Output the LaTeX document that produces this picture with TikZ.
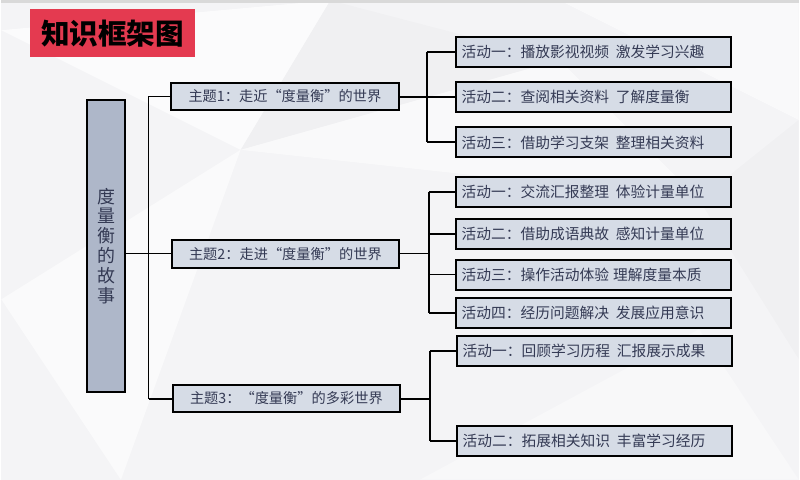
\documentclass[tikz,border=0pt]{standalone}
\usepackage{fontspec}
\usepackage{tikz}
\newfontfamily\cjk{Noto Sans CJK SC}
\definecolor{titlered}{RGB}{228,58,80}
\definecolor{storyfill}{RGB}{174,183,201}
\definecolor{boxfill}{RGB}{214,220,230}
\definecolor{inktext}{RGB}{52,58,84}
\definecolor{bgpaper}{RGB}{244,244,246}

\begin{document}
\begin{tikzpicture}[x=0.75pt,y=0.75pt,yscale=-1,xscale=1,
  every node/.style={font=\cjk},
  titlebox/.style={fill=titlered,text=black,minimum width=123.75pt,minimum height=36pt,inner sep=0pt,font=\cjk\bfseries\fontsize{21.5}{24}\selectfont},
  storybox/.style={draw,line width=1.5pt,fill=storyfill,text=inktext,minimum width=28.5pt,minimum height=219.75pt,inner sep=0pt,align=center,font=\cjk\fontsize{13.5}{15}\selectfont},
  themebox/.style={draw,line width=1.5pt,fill=boxfill,text=inktext,minimum width=171pt,minimum height=21pt,inner sep=0pt,font=\cjk\fontsize{10.7}{12}\selectfont},
  actbox/.style={draw,line width=1.5pt,fill=boxfill,text=inktext,minimum height=22.5pt,text width=199pt,inner xsep=4pt,inner ysep=0pt,align=left,font=\cjk\fontsize{11.1}{12}\selectfont},
  thicklink/.style={line width=1.5pt},
  thinlink/.style={line width=0.75pt}]
%set diagram size 800 x 481
\fill[bgpaper] (0,0) rectangle (800,481);
%Background facets
\fill[white,opacity=0.7] (0,30) -- (330,0) -- (240,150) -- cycle;
\fill[white,opacity=0.5] (240,150) -- (560,60) -- (700,200) -- cycle;
\fill[white,opacity=0.6] (0,300) -- (240,150) -- (120,481) -- cycle;
\fill[white,opacity=0.5] (560,0) -- (800,0) -- (800,120) -- cycle;
\fill[white,opacity=0.4] (420,481) -- (700,330) -- (800,481) -- cycle;
\fill[black,opacity=0.015] (330,0) -- (560,60) -- (240,150) -- cycle;
\fill[black,opacity=0.015] (700,200) -- (800,120) -- (800,360) -- cycle;
\draw[line width=2pt,color=gray!30] (0,1) -- (800,1);

% Title
\node[titlebox] (title) at (111.5,33) {知识框架图};

% Story box
\node[storybox] (story) at (105,246.5) {度\\量\\衡\\的\\故\\事};

% Themes
\node[themebox] (th1) at (284.5,96.5) {主题1：走近“度量衡”的世界};
\node[themebox] (th2) at (285,254.5) {主题2：走进“度量衡”的世界};
\node[themebox] (th3) at (286,399.5) {主题3：“度量衡”的多彩世界};

% Activities of theme 1
\node[actbox] (a11) at (594.5,52) {活动一：播放影视视频\hspace{5pt}激发学习兴趣};
\node[actbox] (a12) at (594.5,97) {活动二：查阅相关资料\hspace{5pt}了解度量衡};
\node[actbox] (a13) at (594.5,142.5) {活动三：借助学习支架\hspace{5pt}整理相关资料};

% Activities of theme 2
\node[actbox] (a21) at (594.5,192) {活动一：交流汇报整理\hspace{5pt}体验计量单位};
\node[actbox] (a22) at (594.5,234.5) {活动二：借助成语典故\hspace{5pt}感知计量单位};
\node[actbox] (a23) at (594.5,275.5) {活动三：操作活动体验\hspace{3pt}理解度量本质};
\node[actbox] (a24) at (594.5,314) {活动四：经历问题解决\hspace{5pt}发展应用意识};

% Activities of theme 3
\node[actbox] (a31) at (595.5,352) {活动一：回顾学习历程\hspace{5pt}汇报展示成果};
\node[actbox] (a32) at (595.5,442) {活动二：拓展相关知识\hspace{5pt}丰富学习经历};

% Trunk
\coordinate (trunk) at (148,0);
\draw[thinlink] (th1.west) -- (trunk |- th1.west) -- (trunk |- th3.west);
\draw[thicklink] (trunk |- th3.west) -- (th3.west);
\draw[thinlink] (story.east |- th2.west) -- (th2.west);

% Brackets
\coordinate (j1) at (427,96.5);
\coordinate (j2) at (429,254.5);
\coordinate (j3) at (430,399.5);
\draw[thicklink] (th1.east) -- (j1);
\draw[thicklink] (j1 |- a11.west) -- (j1 |- a13.west);
\foreach \n in {a11,a12,a13} \draw[thicklink] (j1 |- \n.west) -- (\n.west);
\draw[thinlink] (th2.east) -- (j2);
\draw[thicklink] (j2 |- a21.west) -- (j2 |- a24.west);
\foreach \n in {a21,a22,a24} \draw[thicklink] (j2 |- \n.west) -- (\n.west);
\draw[thinlink] (j2 |- a23.west) -- (a23.west);
\draw[thicklink] (th3.east) -- (j3);
\draw[thicklink] (j3 |- a31.west) -- (j3 |- a32.west);
\foreach \n in {a31,a32} \draw[thicklink] (j3 |- \n.west) -- (\n.west);

\end{tikzpicture}
\end{document}
